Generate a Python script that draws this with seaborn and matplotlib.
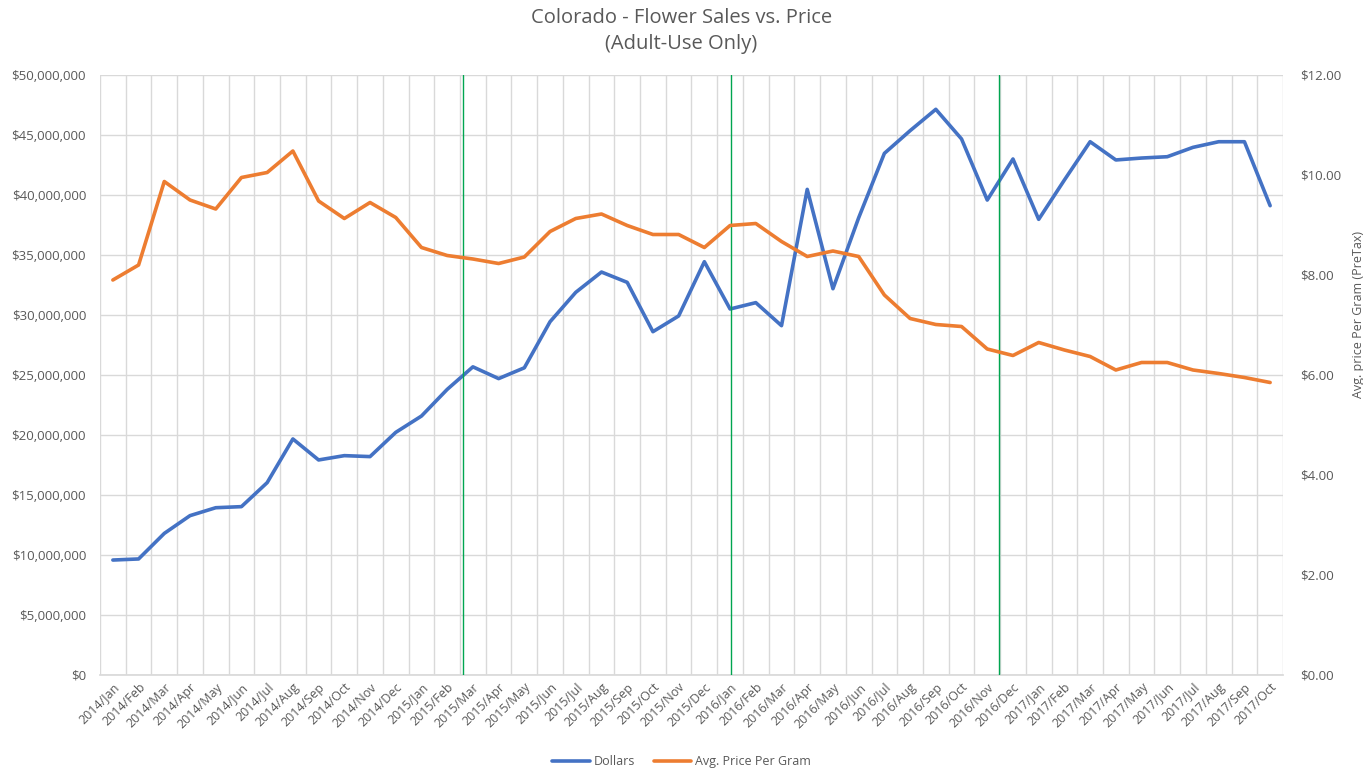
import numpy as np
import pandas as pd
import matplotlib
matplotlib.use("Agg")
import matplotlib.pyplot as plt
import matplotlib.ticker as mticker
import seaborn as sns

## data
months = ["Jan", "Feb", "Mar", "Apr", "May", "Jun",
          "Jul", "Aug", "Sep", "Oct", "Nov", "Dec"]
labels = [f"{y}/{m}" for y in (2014, 2015, 2016, 2017) for m in months][:46]

dollars = [9.58, 9.67, 11.8, 13.28, 13.94, 14.03, 16.03, 19.67, 17.92, 18.28,
           18.2, 20.22, 21.58, 23.8, 25.68, 24.7, 25.6, 29.44, 31.89, 33.58,
           32.72, 28.61, 29.92, 34.44, 30.5, 31.03, 29.11, 40.47, 32.19, 38.1,
           43.47, 45.36, 47.14, 44.67, 39.58, 43.0, 37.97, 41.25, 44.44, 42.92,
           43.08, 43.19, 43.97, 44.44, 44.44, 39.11]  # millions
price = [7.90, 8.20, 9.87, 9.50, 9.32, 9.95, 10.05, 10.48, 9.48, 9.13,
         9.45, 9.15, 8.55, 8.39, 8.32, 8.23, 8.36, 8.87, 9.13, 9.22,
         8.99, 8.81, 8.81, 8.55, 8.99, 9.03, 8.67, 8.37, 8.48, 8.37,
         7.60, 7.13, 7.01, 6.97, 6.52, 6.39, 6.65, 6.50, 6.37, 6.10,
         6.25, 6.25, 6.10, 6.03, 5.95, 5.85]

# hand-drawn green markers (category position)
marker_pos = [13.62, 24.05, 34.44]

df = pd.DataFrame({"pos": np.arange(len(labels)),
                   "Dollars": np.array(dollars) * 1e6,
                   "Avg. Price Per Gram": price})

blue = "#4472C4"
orange = "#ED7D31"
grid_c = "#D9D9D9"
text_c = "#595959"

sns.set_theme(style="white")
plt.rcParams["font.family"] = ["Open Sans", "DejaVu Sans"]

fig = plt.figure(figsize=(13.63, 7.70), dpi=100)
ax = fig.add_axes([100 / 1363, 1 - 675 / 770, 1183 / 1363, 600 / 770])
ax2 = ax.twinx()

sns.lineplot(data=df, x="pos", y="Dollars", ax=ax, color=blue, lw=2.6,
             label="Dollars", legend=False)
sns.lineplot(data=df, x="pos", y="Avg. Price Per Gram", ax=ax2, color=orange,
             lw=2.6, label="Avg. Price Per Gram", legend=False)

for p in marker_pos:
    ax.axvline(p, color="#00A550", lw=1.0, zorder=3)

# left axis
ax.set_xlim(-0.5, len(labels) - 0.5)
ax.set_ylim(0, 50e6)
ax.yaxis.set_major_locator(mticker.MultipleLocator(5e6))
ax.yaxis.set_major_formatter(mticker.FuncFormatter(lambda v, _: f"${v:,.0f}"))
ax.set_xticks(df["pos"])
ax.set_xticklabels(labels, rotation=45, ha="right", rotation_mode="anchor",
                   fontsize=9, color=text_c)
ax.set_xticks(np.arange(-0.5, len(labels)), minor=True)
ax.grid(which="minor", axis="x", color=grid_c, lw=1)
ax.grid(which="major", axis="y", color=grid_c, lw=1)
ax.tick_params(axis="x", which="both", length=0, pad=4)
ax.tick_params(axis="y", length=0, labelsize=9.5, labelcolor=text_c, pad=10)
ax.set_xlabel("")
ax.set_ylabel("")

# right axis
ax2.set_ylim(0, 12)
ax2.yaxis.set_major_locator(mticker.MultipleLocator(2))
ax2.yaxis.set_major_formatter(mticker.FuncFormatter(lambda v, _: f"${v:.2f}"))
ax2.tick_params(axis="y", length=0, labelsize=9.5, labelcolor=text_c, pad=12)
ax2.set_ylabel("Avg. price Per Gram (PreTax)", color=text_c, fontsize=9)
ax2.yaxis.set_label_coords(1.058, 0.60)
ax2.grid(False)

for a in (ax, ax2):
    for s in a.spines.values():
        s.set_visible(False)
ax.spines["bottom"].set_visible(True)
ax.spines["bottom"].set_color(grid_c)

fig.suptitle("Colorado - Flower Sales vs. Price\n(Adult-Use Only)",
             y=0.99, fontsize=14.5, color=text_c, linespacing=1.45)

handles = ax.get_lines()[:1] + ax2.get_lines()[:1]
fig.legend(handles, ["Dollars", "Avg. Price Per Gram"], loc="lower center",
           bbox_to_anchor=(0.5, -0.012), ncol=2, frameon=False, fontsize=9,
           labelcolor=text_c, handlelength=3, handletextpad=0.3,
           columnspacing=1.5)

fig.savefig("out.png", dpi=100)
